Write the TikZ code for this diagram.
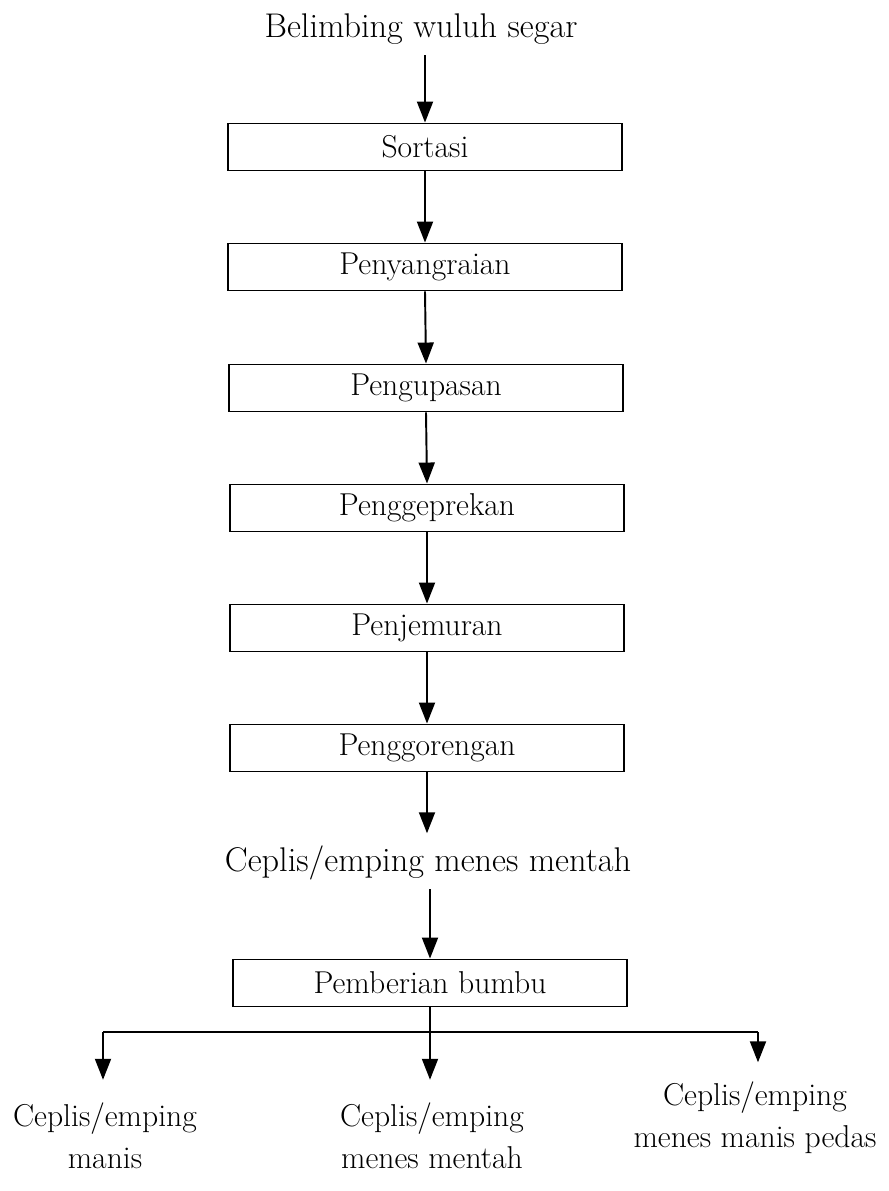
\documentclass[tikz,border=0pt]{standalone}
\usetikzlibrary{arrows.meta}
\begin{document}
\begin{tikzpicture}[x=0.02cm,y=-0.02cm,
  every node/.style={font=\fontsize{18}{24}\selectfont, inner sep=2pt},
  stepbox/.style={draw, line width=1.1pt, minimum width=7.88cm, minimum height=0.94cm, inner sep=0pt},
  lbl/.style={align=center, inner sep=3pt},
  big/.style={font=\fontsize{19.5}{24}\selectfont},
  arr/.style={line width=1.1pt, -{Triangle[length=0.42cm,width=0.32cm]}},
  ln/.style={line width=1.1pt}]
\useasboundingbox (0,0) rectangle (889,1191);
\node[lbl,big] (start) at (421,29) {Belimbing wuluh segar};
\node[stepbox] (s1) at (425,147) {Sortasi};
\node[stepbox] (s2) at (425,267) {Penyangraian};
\node[stepbox] (s3) at (426,388) {Pengupasan};
\node[stepbox] (s4) at (427,508) {Penggeprekan};
\node[stepbox] (s5) at (427,628) {Penjemuran};
\node[stepbox] (s6) at (427,748) {Penggorengan};
\node[lbl,big] (mid) at (428,863) {Ceplis/emping menes mentah};
\node[stepbox] (s7) at (430,983) {Pemberian bumbu};
\node[lbl] (o1) at (105,1136) {Ceplis/emping\\manis};
\node[lbl] (o2) at (432,1136) {Ceplis/emping\\menes mentah};
\node[lbl] (o3) at (755,1118) {Ceplis/emping\\menes manis pedas};
\draw[arr, shorten <=3pt] (start.south -| s1.north) -- (s1.north);
\draw[arr] (s1.south) -- (s2.north);
\draw[arr] (s2.south) -- (s3.north);
\draw[arr] (s3.south) -- (s4.north);
\draw[arr] (s4.south) -- (s5.north);
\draw[arr] (s5.south) -- (s6.north);
\draw[arr, shorten >=4pt] (s6.south) -- (s6.south |- mid.north);
\draw[arr, shorten <=2pt] (mid.south -| s7.north) -- (s7.north);
\coordinate (jl) at (103,1032);
\coordinate (jr) at (758,1032);
\draw[ln] (jl) -- (jr);
\draw[arr, shorten >=10pt] (s7.south) -- (s7.south |- o2.north);
\draw[arr, shorten >=10pt] (jl) -- (jl |- o1.north);
\draw[arr, shorten >=8pt] (jr) -- (jr |- o3.north);
\end{tikzpicture}
\end{document}
